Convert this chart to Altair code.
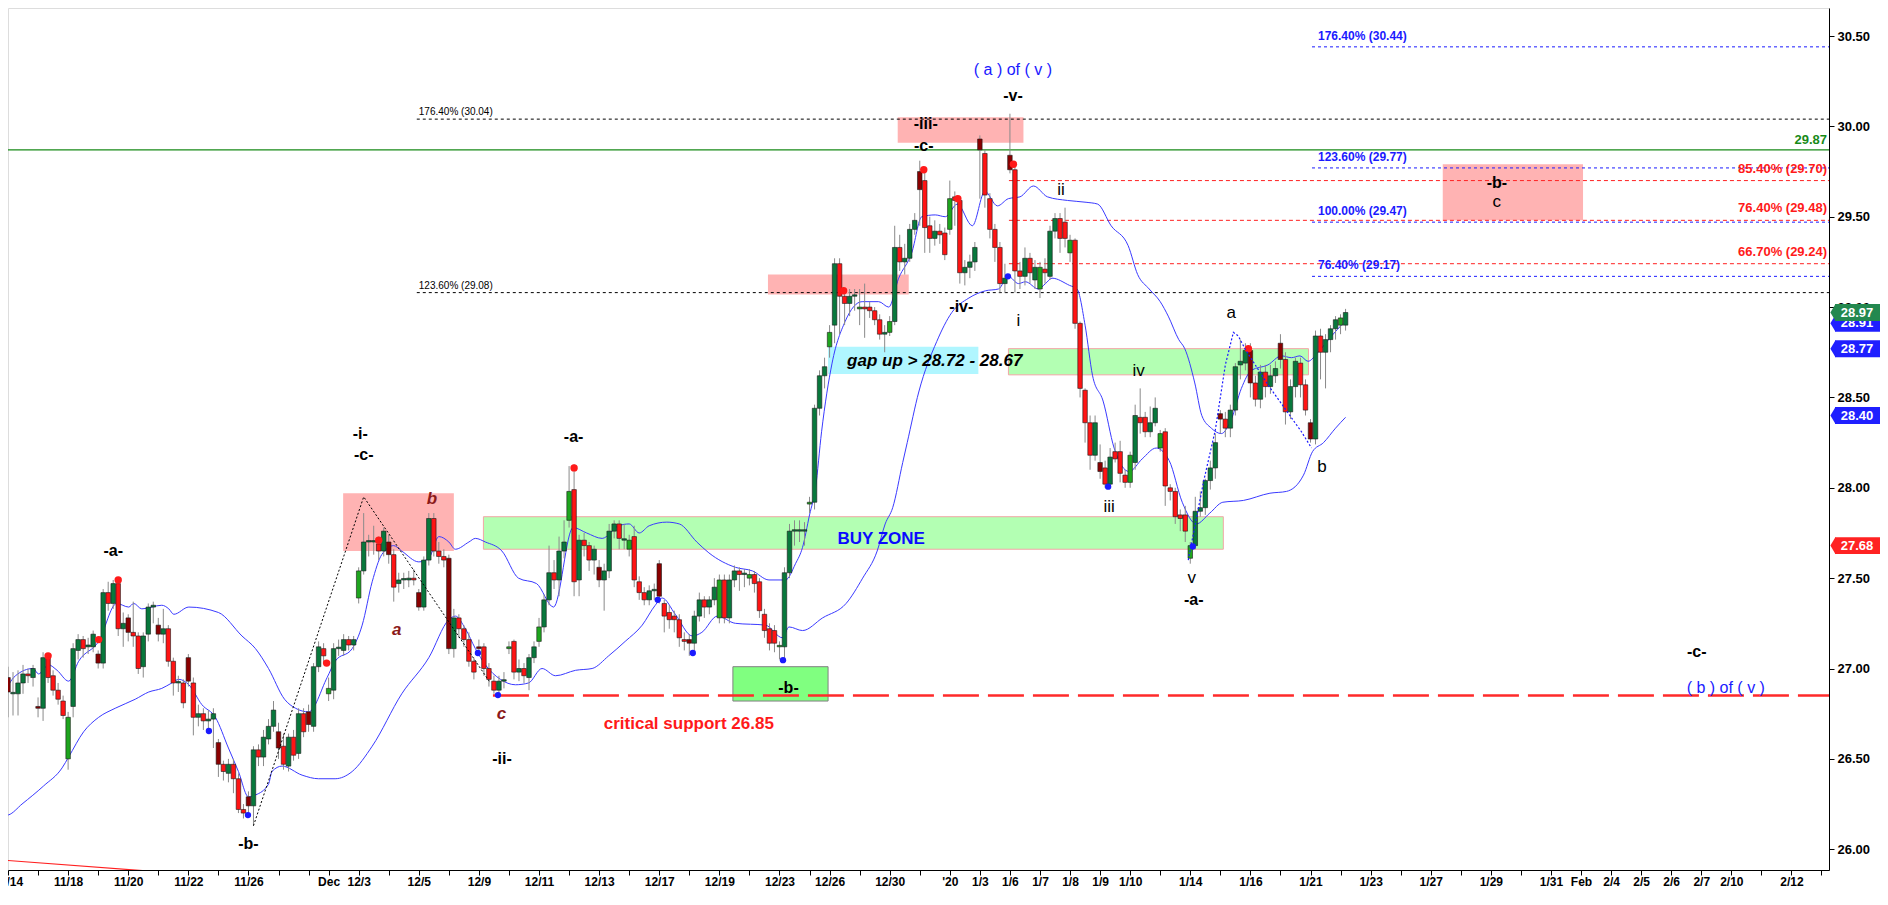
import json
import altair as alt
import pandas as pd

# ---------------- candle data (hourly bars, index = bar number) ----------------
BAR = list(range(1, 270))
OPEN = [26.84, 26.95, 26.86, 26.86, 26.92, 26.97, 26.95, 26.79, 26.78, 27.06,
        26.96, 26.88, 26.82, 26.50, 26.79, 27.10, 27.16, 27.12, 27.12, 27.08,
        27.03, 27.42, 27.36, 27.47, 27.22, 27.28, 27.20, 27.18, 27.01, 27.19,
        27.34, 27.24, 27.19, 27.22, 27.04, 26.92, 26.92, 27.06, 26.92, 26.73,
        26.75, 26.71, 26.72, 26.59, 26.47, 26.42, 26.47, 26.39, 26.22, 26.29,
        26.24, 26.55, 26.51, 26.61, 26.68, 26.65, 26.57, 26.46, 26.62, 26.53,
        26.75, 26.76, 26.68, 27.01, 27.11, 26.86, 26.88, 27.11, 27.10, 27.16,
        27.13, 27.39, 27.54, 27.70, 27.70, 27.69, 27.65, 27.70, 27.63, 27.47,
        27.49, 27.49, 27.50, 27.42, 27.34, 27.60, 27.83, 27.65, 27.62, 27.61,
        27.11, 27.28, 27.22, 27.16, 27.04, 27.12, 27.12, 27.00, 26.93, 26.88,
        26.93, 27.11, 27.15, 26.98, 27.00, 26.95, 27.06, 27.15, 27.23, 27.38,
        27.53, 27.49, 27.65, 27.82, 27.99, 27.49, 27.71, 27.68, 27.60, 27.56,
        27.49, 27.54, 27.76, 27.80, 27.71, 27.66, 27.73, 27.48, 27.42, 27.38,
        27.43, 27.58, 27.36, 27.31, 27.29, 27.27, 27.16, 27.16, 27.14, 27.29,
        27.38, 27.34, 27.38, 27.28, 27.49, 27.28, 27.49, 27.54, 27.52, 27.50,
        27.52, 27.48, 27.30, 27.22, 27.21, 27.12, 27.12, 27.53, 27.76, 27.76,
        27.76, 27.91, 27.92, 28.44, 28.62, 28.78, 28.90, 29.24, 29.06, 29.02,
        29.06, 28.99, 29.00, 29.00, 28.98, 28.93, 28.85, 28.86, 28.92, 29.33,
        29.25, 29.27, 29.43, 29.75, 29.70, 29.45, 29.38, 29.42, 29.41, 29.43,
        29.61, 29.59, 29.19, 29.22, 29.25, 29.93, 29.85, 29.60, 29.43, 29.33,
        29.13, 29.84, 29.76, 29.20, 29.17, 29.27, 29.15, 29.10, 29.21, 29.17,
        29.42, 29.49, 29.47, 29.30, 29.37, 28.91, 28.54, 28.36, 28.18, 28.14,
        28.11, 28.02, 28.20, 28.20, 28.07, 28.03, 28.14, 28.39, 28.39, 28.31,
        28.36, 28.22, 28.31, 28.00, 27.98, 27.85, 27.85, 27.61, 27.68, 27.87,
        27.89, 28.04, 28.11, 28.41, 28.38, 28.33, 28.43, 28.68, 28.69, 28.76,
        28.58, 28.49, 28.64, 28.56, 28.62, 28.80, 28.71, 28.42, 28.56, 28.69,
        28.57, 28.36, 28.27, 28.84, 28.75, 28.82, 28.88, 28.90, 28.90]
CLOSE = [26.75, 26.87, 26.86, 26.92, 26.97, 26.96, 27.00, 26.78, 27.06, 26.95,
         26.88, 26.83, 26.74, 26.73, 27.11, 27.16, 27.11, 27.13, 27.19, 27.03,
         27.42, 27.36, 27.47, 27.22, 27.25, 27.20, 27.18, 27.00, 27.18, 27.34,
         27.35, 27.19, 27.22, 27.04, 26.92, 26.92, 26.81, 26.93, 26.73, 26.75,
         26.71, 26.72, 26.75, 26.47, 26.43, 26.47, 26.39, 26.22, 26.20, 26.24,
         26.55, 26.51, 26.62, 26.68, 26.77, 26.56, 26.47, 26.62, 26.52, 26.75,
         26.65, 26.69, 27.01, 27.12, 27.07, 26.89, 27.11, 27.11, 27.16, 27.13,
         27.16, 27.54, 27.70, 27.70, 27.70, 27.65, 27.76, 27.63, 27.45, 27.49,
         27.49, 27.50, 27.49, 27.34, 27.60, 27.83, 27.65, 27.62, 27.60, 27.11,
         27.28, 27.22, 27.16, 27.04, 26.98, 27.11, 27.00, 26.94, 26.88, 26.93,
         26.93, 27.12, 26.98, 27.00, 26.96, 27.06, 27.12, 27.23, 27.38, 27.53,
         27.49, 27.65, 27.70, 27.98, 27.48, 27.71, 27.68, 27.60, 27.66, 27.49,
         27.54, 27.76, 27.80, 27.72, 27.71, 27.71, 27.49, 27.42, 27.38, 27.43,
         27.43, 27.40, 27.29, 27.27, 27.27, 27.17, 27.15, 27.14, 27.29, 27.38,
         27.34, 27.38, 27.45, 27.49, 27.28, 27.49, 27.54, 27.52, 27.52, 27.52,
         27.47, 27.32, 27.21, 27.14, 27.14, 27.12, 27.53, 27.76, 27.76, 27.76,
         27.76, 27.92, 28.44, 28.62, 28.67, 28.86, 29.24, 29.06, 29.02, 29.06,
         29.06, 29.00, 28.99, 28.98, 28.93, 28.85, 28.86, 28.92, 29.33, 29.25,
         29.27, 29.43, 29.48, 29.65, 29.44, 29.38, 29.42, 29.40, 29.29, 29.60,
         29.59, 29.19, 29.22, 29.25, 29.33, 29.87, 29.62, 29.43, 29.33, 29.13,
         29.16, 29.76, 29.20, 29.17, 29.27, 29.19, 29.22, 29.22, 29.19, 29.42,
         29.49, 29.38, 29.38, 29.37, 28.91, 28.55, 28.36, 28.18, 28.36, 28.09,
         28.02, 28.17, 28.16, 28.08, 28.03, 28.18, 28.40, 28.36, 28.31, 28.36,
         28.44, 28.30, 28.01, 27.98, 27.84, 27.83, 27.76, 27.68, 27.87, 27.89,
         28.04, 28.11, 28.25, 28.38, 28.33, 28.43, 28.67, 28.70, 28.76, 28.58,
         28.49, 28.64, 28.56, 28.62, 28.66, 28.71, 28.42, 28.56, 28.70, 28.57,
         28.43, 28.27, 28.84, 28.75, 28.82, 28.88, 28.93, 28.94, 28.97]
HIGH = [26.87, 27.01, 26.98, 26.99, 27.02, 27.00, 27.02, 26.84, 27.09, 27.07,
        26.99, 26.92, 26.85, 26.76, 27.14, 27.19, 27.18, 27.17, 27.21, 27.10,
        27.44, 27.48, 27.49, 27.49, 27.31, 27.30, 27.37, 27.20, 27.20, 27.36,
        27.37, 27.28, 27.33, 27.24, 27.06, 26.96, 26.94, 27.08, 26.95, 26.80,
        26.78, 26.77, 26.78, 26.61, 26.49, 26.50, 26.50, 26.42, 26.25, 26.32,
        26.57, 26.58, 26.66, 26.72, 26.82, 26.70, 26.64, 26.64, 26.66, 26.78,
        26.78, 26.80, 27.03, 27.15, 27.14, 26.95, 27.14, 27.16, 27.19, 27.18,
        27.18, 27.56, 27.86, 27.74, 27.79, 27.73, 27.78, 27.74, 27.66, 27.53,
        27.53, 27.54, 27.55, 27.44, 27.62, 27.86, 27.86, 27.70, 27.66, 27.63,
        27.33, 27.30, 27.24, 27.20, 27.06, 27.16, 27.14, 27.03, 26.96, 26.96,
        26.98, 27.15, 27.16, 27.05, 27.03, 27.08, 27.15, 27.28, 27.41, 27.68,
        27.60, 27.73, 27.82, 28.12, 28.13, 27.74, 27.75, 27.70, 27.68, 27.60,
        27.58, 27.80, 27.82, 27.82, 27.80, 27.74, 27.79, 27.51, 27.45, 27.46,
        27.47, 27.60, 27.38, 27.35, 27.32, 27.30, 27.20, 27.19, 27.32, 27.42,
        27.40, 27.40, 27.50, 27.52, 27.52, 27.52, 27.57, 27.56, 27.55, 27.55,
        27.54, 27.50, 27.33, 27.25, 27.24, 27.15, 27.56, 27.80, 27.82, 27.82,
        27.81, 27.95, 28.46, 28.65, 28.72, 28.90, 29.27, 29.27, 29.10, 29.10,
        29.10, 29.10, 29.13, 29.03, 29.00, 28.96, 28.90, 28.95, 29.45, 29.40,
        29.35, 29.46, 29.52, 29.81, 29.77, 29.50, 29.48, 29.46, 29.44, 29.70,
        29.64, 29.61, 29.26, 29.29, 29.36, 29.95, 29.87, 29.63, 29.46, 29.36,
        29.24, 30.07, 29.80, 29.25, 29.33, 29.30, 29.26, 29.25, 29.27, 29.45,
        29.52, 29.52, 29.55, 29.40, 29.38, 28.92, 28.55, 28.40, 28.40, 28.24,
        28.15, 28.22, 28.25, 28.26, 28.10, 28.20, 28.46, 28.55, 28.42, 28.45,
        28.50, 28.32, 28.33, 28.02, 28.00, 27.88, 27.90, 27.70, 27.95, 27.98,
        28.05, 28.15, 28.30, 28.43, 28.42, 28.46, 28.69, 28.82, 28.80, 28.80,
        28.62, 28.68, 28.68, 28.68, 28.70, 28.85, 28.75, 28.60, 28.72, 28.72,
        28.60, 28.38, 28.87, 28.88, 28.85, 28.90, 28.95, 28.96, 28.99]
LOW = [26.72, 26.73, 26.74, 26.74, 26.86, 26.92, 26.90, 26.73, 26.71, 26.92,
       26.85, 26.80, 26.72, 26.44, 26.73, 27.05, 27.06, 27.08, 27.09, 27.00,
       27.00, 27.32, 27.33, 27.18, 27.12, 27.15, 27.12, 26.97, 26.95, 27.15,
       27.25, 27.15, 27.14, 27.01, 26.85, 26.87, 26.78, 26.90, 26.63, 26.68,
       26.66, 26.65, 26.56, 26.40, 26.38, 26.37, 26.31, 26.20, 26.17, 26.19,
       26.13, 26.46, 26.46, 26.58, 26.65, 26.50, 26.44, 26.43, 26.49, 26.50,
       26.62, 26.65, 26.65, 26.98, 27.03, 26.82, 26.83, 27.07, 27.07, 27.10,
       27.10, 27.36, 27.52, 27.62, 27.63, 27.60, 27.62, 27.58, 27.37, 27.42,
       27.44, 27.45, 27.46, 27.32, 27.32, 27.57, 27.62, 27.58, 27.56, 27.08,
       27.06, 27.17, 27.12, 27.01, 26.94, 27.07, 26.96, 26.90, 26.86, 26.85,
       26.89, 27.08, 26.94, 26.93, 26.92, 26.88, 27.03, 27.12, 27.20, 27.35,
       27.44, 27.40, 27.61, 27.78, 27.40, 27.40, 27.62, 27.54, 27.52, 27.45,
       27.32, 27.50, 27.72, 27.66, 27.66, 27.62, 27.45, 27.38, 27.35, 27.35,
       27.38, 27.36, 27.20, 27.22, 27.20, 27.12, 27.10, 27.07, 27.10, 27.26,
       27.28, 27.30, 27.35, 27.25, 27.25, 27.25, 27.45, 27.43, 27.45, 27.46,
       27.42, 27.28, 27.17, 27.10, 27.09, 27.05, 27.04, 27.50, 27.68, 27.70,
       27.68, 27.86, 27.88, 28.40, 28.55, 28.72, 28.80, 28.85, 28.90, 28.95,
       28.98, 28.90, 28.83, 28.94, 28.90, 28.82, 28.75, 28.84, 28.90, 29.20,
       29.18, 29.25, 29.40, 29.45, 29.30, 29.30, 29.34, 29.35, 29.26, 29.40,
       29.45, 29.13, 29.12, 29.16, 29.20, 29.60, 29.55, 29.38, 29.25, 29.08,
       29.08, 29.74, 29.08, 29.10, 29.12, 29.13, 29.10, 29.05, 29.13, 29.15,
       29.38, 29.30, 29.33, 29.25, 28.88, 28.50, 28.25, 28.10, 28.15, 28.05,
       28.00, 28.00, 28.14, 28.03, 28.00, 28.00, 28.10, 28.30, 28.28, 28.28,
       28.34, 28.20, 27.90, 27.93, 27.80, 27.76, 27.70, 27.58, 27.66, 27.84,
       27.85, 27.99, 28.05, 28.30, 28.28, 28.28, 28.40, 28.60, 28.65, 28.50,
       28.45, 28.44, 28.50, 28.52, 28.58, 28.66, 28.35, 28.38, 28.50, 28.50,
       28.40, 28.25, 28.24, 28.60, 28.55, 28.75, 28.82, 28.85, 28.87]

# first bar of each trading session
DAY_START = [2, 8, 14, 20, 26, 32, 38, 44, 50, 56, 62, 66, 72, 78, 84, 90, 96, 102,
             108, 114, 120, 126, 132, 138, 144, 150, 156, 162, 166, 172, 178, 184,
             190, 196, 202, 208, 214, 220, 226, 232, 238, 244, 250, 256, 262, 268]
FUTURE_DAYS = [274, 280, 286, 292, 298, 304, 310, 316, 322, 328, 334, 340, 346, 352, 358, 364]
TICK_BARS = DAY_START + FUTURE_DAYS
TICK_TEXT = ["11/14", "", "11/18", "", "11/20", "", "11/22", "", "11/26", "", "", "Dec",
             "12/3", "", "12/5", "", "12/9", "", "12/11", "", "12/13", "", "12/17", "",
             "12/19", "", "12/23", "", "12/26", "", "12/30", "", "'20", "1/3", "1/6",
             "1/7", "1/8", "1/9", "1/10", "", "1/14", "", "1/16", "", "1/21", "",
             "1/23", "", "1/27", "", "1/29", "", "1/31", "Feb", "2/4", "2/5", "2/6",
             "2/7", "2/10", "", "2/12", ""]

# bands (upper / lower envelope)
UPPER_K = [0.8, 3.5, 7.0, 8.1, 10.1, 11.8, 14.1, 16.1, 20.1, 23.7, 26.1, 27.1, 28.7, 32.7,
           34.1, 35.1, 38.1, 44.0, 48.7, 51.4, 54.0, 57.2, 59.4, 62.0, 65.7, 67.3, 70.7,
           72.7, 74.7, 76.6, 79.0, 80.6, 84.0, 86.0, 88.0, 90.0, 91.3, 94.0, 95.3, 97.3,
           100.6, 103.9, 107.5, 110.9, 114.8, 117.5, 120.6, 123.9, 126.0, 128.0, 130.0,
           133.5, 136.0, 139.5, 141.9, 147.2, 150.6, 153.9, 157.2, 159.2, 160.6, 162.0,
           163.2, 164.4, 166.5, 169.1, 172.5, 175.8, 177.8, 179.8, 182.4, 184.4, 187.1,
           189.1, 191.5, 194.5, 197.0, 199.5, 201.7, 204.0, 206.7, 209.5, 213.5, 217.2,
           219.5, 222.2, 225.6, 227.5, 229.8, 232.0, 233.6, 235.7, 236.9, 238.9, 240.3,
           242.2, 244.2, 246.2, 248.2, 250.2, 253.5, 256.2, 258.2, 259.9, 261.5, 263.5,
           266.2, 268.5]
UPPER_P = [26.84, 26.96, 27.00, 26.97, 27.02, 26.99, 26.93, 27.04, 27.15, 27.36, 27.34,
           27.36, 27.33, 27.35, 27.33, 27.30, 27.34, 27.31, 27.18, 27.11, 27.00, 26.83,
           26.78, 26.76, 26.95, 27.04, 27.11, 27.24, 27.48, 27.63, 27.68, 27.65, 27.59,
           27.61, 27.73, 27.70, 27.66, 27.70, 27.72, 27.70, 27.65, 27.50, 27.47, 27.34,
           27.78, 27.75, 27.72, 27.79, 27.80, 27.75, 27.79, 27.81, 27.80, 27.70, 27.64,
           27.56, 27.54, 27.49, 27.49, 27.58, 27.67, 27.85, 28.00, 28.31, 28.69, 28.92,
           29.03, 29.03, 29.00, 29.16, 29.30, 29.50, 29.51, 29.50, 29.57, 29.45, 29.64,
           29.56, 29.60, 29.61, 29.67, 29.61, 29.59, 29.58, 29.57, 29.45, 29.34, 29.18,
           29.10, 29.03, 28.95, 28.82, 28.77, 28.58, 28.40, 28.33, 28.30, 28.38, 28.55,
           28.65, 28.68, 28.73, 28.72, 28.73, 28.70, 28.75, 28.84, 28.91]
LOWER_K = [0.8, 2.1, 4.8, 9.1, 12.8, 14.1, 17.1, 20.1, 23.4, 27.4, 30.1, 32.7, 34.7, 36.1,
           38.1, 40.7, 43.4, 46.0, 48.0, 50.0, 51.4, 54.0, 54.7, 56.7, 60.7, 64.0, 67.3,
           70.7, 74.7, 80.6, 86.0, 90.0, 91.3, 93.3, 95.3, 97.3, 100.3, 103.3, 105.9,
           108.6, 111.3, 115.3, 118.6, 121.9, 125.2, 128.6, 131.2, 132.6, 135.2, 138.6,
           140.5, 143.6, 147.2, 153.2, 156.6, 157.9, 160.6, 164.6, 169.3, 172.6, 175.5,
           177.1, 178.6, 180.6, 181.5, 183.8, 187.4, 190.4, 193.8, 197.1, 199.7, 201.7,
           203.7, 205.1, 207.7, 209.1, 210.4, 213.9, 215.4, 217.0, 218.5, 220.6, 222.8,
           225.8, 228.4, 231.2, 233.8, 236.4, 239.2, 241.9, 244.5, 248.6, 253.9, 257.2,
           260.6, 262.4, 264.6, 267.0, 269.0]
LOWER_P = [26.185, 26.19, 26.25, 26.35, 26.45, 26.51, 26.65, 26.73, 26.78, 26.83, 26.87,
           26.89, 26.92, 26.94, 26.91, 26.80, 26.73, 26.56, 26.43, 26.29, 26.30, 26.36,
           26.43, 26.46, 26.41, 26.39, 26.39, 26.43, 26.57, 26.86, 27.06, 27.27, 27.29,
           27.22, 27.11, 27.02, 26.94, 26.91, 26.92, 27.00, 26.96, 26.99, 27.00, 27.07,
           27.15, 27.24, 27.35, 27.39, 27.30, 27.18, 27.20, 27.29, 27.25, 27.24, 27.17,
           27.23, 27.21, 27.28, 27.36, 27.50, 27.65, 27.80, 27.89, 28.14, 28.25, 28.53,
           28.81, 28.97, 29.05, 29.09, 29.10, 29.17, 29.13, 29.14, 29.10, 29.13, 29.16,
           29.12, 29.10, 28.90, 28.62, 28.48, 28.22, 28.09, 28.16, 28.22, 28.15, 27.92,
           27.80, 27.86, 27.92, 27.93, 27.97, 27.98, 28.07, 28.20, 28.25, 28.33, 28.39]

# swing markers
RED_DOT_K = [10, 20.1, 24, 65.6, 76, 115, 168.8, 184.8, 191.6, 202.7, 249.6]
RED_DOT_P = [27.07, 27.16, 27.49, 27.03, 27.71, 28.11, 29.09, 29.76, 29.60, 29.79, 28.77]
BLUE_DOT_K = [42.1, 49.9, 95.8, 99.8, 131.7, 138.7, 156.7, 201.6, 221.6, 238.5]
BLUE_DOT_P = [26.654, 26.189, 27.086, 26.853, 27.38, 27.086, 27.046, 29.17, 28.006, 27.675]

# fibonacci / level lines
BLACK_FIB = [30.04, 29.08]
BLACK_FIB_TXT = ["176.40% (30.04)", "123.60% (29.08)"]
BLUE_FIB = [30.44, 29.77, 29.47, 29.17]
BLUE_FIB_TXT = ["176.40% (30.44)", "123.60% (29.77)", "100.00% (29.47)", "76.40% (29.17)"]
RED_FIB = [29.70, 29.48, 29.24]
RED_FIB_TXT = ["85.40% (29.70)", "76.40% (29.48)", "66.70% (29.24)"]
KEY_LEVEL = 29.87
SUPPORT = 26.85

TAG_VALUES = [28.91, 28.97, 28.77, 28.40, 27.68]
TAG_KIND = ["blue", "green", "blue", "blue", "red"]
TAG_COLORS = {"blue": "#1f1fff", "green": "#23884f", "red": "#ff2222"}

# ---------------- layout ----------------
W, H = 1821, 862
XD = [2.0, 365.5]
YD = [25.885, 30.655]
FONT = "Liberation Sans"

xs = alt.Scale(domain=XD, nice=False, zero=False)
ys = alt.Scale(domain=YD, nice=False, zero=False)
label_expr = f"{json.dumps(TICK_TEXT)}[indexof({json.dumps(TICK_BARS)}, datum.value)]"
x_axis = alt.Axis(values=TICK_BARS, labelExpr=label_expr, labelOverlap=False, labelFlush=False,
                  tickSize=5, labelFontSize=12, labelFontWeight="bold", labelColor="black",
                  labelFont=FONT, domainColor="black", tickColor="black", grid=False,
                  title=None, labelPadding=1, domainWidth=1)
y_axis = alt.Axis(orient="right", values=[26.0, 26.5, 27.0, 27.5, 28.0, 28.5, 29.0, 29.5, 30.0, 30.5],
                  format=".2f", tickSize=5, labelFontSize=13, labelFontWeight="bold",
                  labelColor="black", labelFont=FONT, domainColor="black", tickColor="black",
                  grid=False, title=None, labelPadding=3, domainWidth=1)


def X(f):
    return alt.X(f, type="quantitative", scale=xs, axis=x_axis)


def Y(f):
    return alt.Y(f, type="quantitative", scale=ys, axis=y_axis)


# ---------------- tables ----------------
rows = []
for i, k in enumerate(BAR):
    o, c, h, l = OPEN[i], CLOSE[i], HIGH[i], LOW[i]
    up = c >= o
    first = k in DAY_START
    kind = ("gap up" if up else "gap down") if first else ("up" if up else "down")
    top, bot = max(o, c), min(o, c)
    if top - bot < 0.008:
        top = bot + 0.008
    rows.append(dict(k=k, k1=k - 0.45, k2=k + 0.45, top=top, bot=bot,
                     hi=max(h, top), lo=min(l, bot), kind=kind))
candles = pd.DataFrame(rows)

upper = pd.DataFrame({"k": UPPER_K, "p": UPPER_P})
lower = pd.DataFrame({"k": LOWER_K, "p": LOWER_P})
reddots = pd.DataFrame({"k": RED_DOT_K, "p": RED_DOT_P})
bluedots = pd.DataFrame({"k": BLUE_DOT_K, "p": BLUE_DOT_P})

layers = []


def rect(k1, k2, p1, p2, fill, stroke=None, sw=1):
    df = pd.DataFrame([{"k1": k1, "k2": k2, "p1": p1, "p2": p2}])
    kw = dict(fill=fill, clip=True)
    if stroke:
        kw.update(stroke=stroke, strokeWidth=sw)
    else:
        kw.update(strokeWidth=0)
    return alt.Chart(df).mark_rect(**kw).encode(x=X("k1"), x2=alt.X2("k2"), y=Y("p1"), y2=alt.Y2("p2"))


PINK = "#ffb3b3"
LGREEN = "#b3ffb3"
layers += [
    rect(68.9, 91.0, 27.65, 27.97, PINK),
    rect(96.9, 244.6, 27.66, 27.84, LGREEN, "#f2a6a6"),
    rect(146.7, 165.7, 26.82, 27.01, "#80ff80", "#808080"),
    rect(153.7, 181.8, 29.07, 29.18, PINK),
    rect(179.6, 204.7, 29.91, 30.05, PINK),
    rect(165.7, 195.7, 28.63, 28.78, "#b0f6ff"),
    rect(201.7, 261.6, 28.625, 28.77, LGREEN, "#f2a6a6"),
    rect(288.4, 316.4, 29.48, 29.79, PINK),
]


def hlines(values, k1, k2, color, dash, width=1):
    df = pd.DataFrame({"p": values, "k1": k1, "k2": k2})
    kw = dict(color=color, strokeWidth=width, clip=True)
    if dash:
        kw["strokeDash"] = dash
    return alt.Chart(df).mark_rule(**kw).encode(x=X("k1"), x2=alt.X2("k2"), y=Y("p"))


layers += [
    hlines([KEY_LEVEL], 0.0, 368.0, "#178a17", None, 1.2),
    hlines(BLACK_FIB, 83.6, 368.0, "#000000", [3, 3]),
    hlines(BLUE_FIB, 262.3, 368.0, "#1a1aff", [3, 3]),
    hlines(RED_FIB, 201.8, 368.0, "#ff2020", [4, 3]),
    hlines([SUPPORT], 98.8, 368.0, "#ff2a2a", [36, 9], 2.5),
]

# red trend line at the bottom left
trend = pd.DataFrame({"k": [0.8, 58.5], "p": [25.94, 25.82]})
layers.append(alt.Chart(trend).mark_line(color="#ff2020", strokeWidth=1.2, clip=True)
              .encode(x=X("k"), y=Y("p")))

# bands
for df in (upper, lower):
    layers.append(alt.Chart(df).mark_line(color="#3a3aff", strokeWidth=1, interpolate="monotone", clip=True)
                  .encode(x=X("k"), y=Y("p")))

# candles
layers.append(alt.Chart(candles).mark_rule(color="#8a8a8a", strokeWidth=1, clip=True)
              .encode(x=X("k"), y=Y("lo"), y2=alt.Y2("hi")))
layers.append(alt.Chart(candles).mark_rect(stroke="#1a1a1a", strokeWidth=0.6, clip=True)
              .encode(x=X("k1"), x2=alt.X2("k2"), y=Y("bot"), y2=alt.Y2("top"),
                      fill=alt.Fill("kind:N", legend=None,
                                    scale=alt.Scale(domain=["up", "down", "gap up", "gap down"],
                                                    range=["#08783c", "#ff1414", "#1ea51e", "#8b0000"]))))

# swing dots
layers.append(alt.Chart(reddots).mark_circle(color="#ff1a1a", size=55, opacity=1, clip=True)
              .encode(x=X("k"), y=Y("p")))
layers.append(alt.Chart(bluedots).mark_circle(color="#1a1aff", size=40, opacity=1, clip=True)
              .encode(x=X("k"), y=Y("p")))

# dotted wave sketches
zz1 = pd.DataFrame({"k": [51, 73, 98.3], "p": [26.13, 27.95, 26.92]})
zz2 = pd.DataFrame({"k": [237.6, 240.7, 243.0, 245.0, 246.6, 247.6, 248.9, 253.5, 260.2, 262.2],
                    "p": [27.60, 28.04, 28.32, 28.68, 28.86, 28.84, 28.77, 28.57, 28.31, 28.22]})
layers.append(alt.Chart(zz1).mark_line(color="#000000", strokeDash=[2, 2], strokeWidth=1, clip=True)
              .encode(x=X("k"), y=Y("p")))
layers.append(alt.Chart(zz2).mark_line(color="#1a1aff", strokeDash=[2, 2], strokeWidth=1.2, clip=True)
              .encode(x=X("k"), y=Y("p")))


def texts(items, **kw):
    df = pd.DataFrame(items, columns=["k", "p", "t"])
    base = dict(font=FONT)
    base.update(kw)
    return alt.Chart(df).mark_text(**base).encode(x=X("k"), y=Y("p"), text="t:N")


# wave labels
layers.append(texts([
    (23.0, 27.65, "-a-"), (50.0, 26.03, "-b-"), (72.3, 28.30, "-i-"), (73.0, 28.18, "-c-"),
    (100.6, 26.50, "-ii-"), (114.9, 28.28, "-a-"), (157.8, 26.89, "-b-"),
    (184.8, 29.894, "-c-"), (185.2, 30.015, "-iii-"), (202.6, 30.17, "-v-"),
    (192.3, 28.998, "-iv-"), (238.7, 27.38, "-a-"), (339.1, 27.09, "-c-"),
    (299.2, 29.689, "-b-"),
], fontSize=16, fontWeight="bold", color="#000000"))
layers.append(texts([
    (212.2, 29.647, "ii"), (203.7, 28.925, "i"), (227.7, 28.649, "iv"), (221.8, 27.895, "iii"),
    (238.3, 27.50, "v"), (246.2, 28.97, "a"), (264.3, 28.116, "b"), (299.2, 29.579, "c"),
], fontSize=17, color="#000000"))
layers.append(texts([
    (86.6, 27.94, "b"), (79.6, 27.215, "a"), (100.5, 26.75, "c"),
], fontSize=17, fontWeight="bold", fontStyle="italic", color="#8b1a1a"))
layers.append(texts([
    (202.6, 30.31, "( a ) of ( v )"), (344.9, 26.89, "( b ) of ( v )"),
], fontSize=16, color="#1a1aff"))
layers.append(texts([(176.3, 27.715, "BUY ZONE")], fontSize=17, fontWeight="bold", color="#0a0aff"))
layers.append(texts([(137.9, 26.695, "critical support 26.85")], fontSize=17, fontWeight="bold",
                    color="#ff1a1a"))
layers.append(texts([(169.5, 28.70, "gap up > 28.72 - 28.67")], fontSize=17, fontWeight="bold",
                    fontStyle="italic", color="#000000", align="left"))

# fib labels
layers.append(texts([(84.0, v, t) for v, t in zip(BLACK_FIB, BLACK_FIB_TXT)],
                    fontSize=10, color="#000000", align="left", baseline="bottom", dy=-2))
layers.append(texts([(263.5, v, t) for v, t in zip(BLUE_FIB, BLUE_FIB_TXT)],
                    fontSize=12, fontWeight="bold", color="#1a1aff", align="left", baseline="bottom", dy=-4))

redlab = pd.DataFrame({"p": RED_FIB, "t": RED_FIB_TXT})
layers.append(alt.Chart(redlab).mark_text(font=FONT, fontSize=13, fontWeight="bold", color="#ff1a1a",
                                          align="right", baseline="bottom", dy=-5)
              .encode(x=alt.value(W - 2), y=Y("p"), text="t:N"))
keylab = pd.DataFrame({"p": [KEY_LEVEL], "t": ["29.87"]})
layers.append(alt.Chart(keylab).mark_text(font=FONT, fontSize=13, fontWeight="bold", color="#178a17",
                                          align="right", baseline="bottom", dy=-3)
              .encode(x=alt.value(W - 2), y=Y("p"), text="t:N"))

# price tags on the right axis
for v, kind in zip(TAG_VALUES, TAG_KIND):
    col = TAG_COLORS[kind]
    one = pd.DataFrame({"p": [v], "p1": [v + 0.047], "p2": [v - 0.047], "t": [f"{v:.2f}"]})
    layers.append(alt.Chart(one).mark_rect(clip=False, fill=col)
                  .encode(x=alt.value(W + 6), x2=alt.value(W + 51), y=Y("p1"), y2=alt.Y2("p2")))
    layers.append(alt.Chart(one).mark_point(shape="M0,-1L-0.6,0L0,1Z", size=290, filled=True,
                                            fill=col, strokeWidth=0, opacity=1, clip=False)
                  .encode(x=alt.value(W + 6.5), y=Y("p")))
    layers.append(alt.Chart(one).mark_text(font=FONT, fontSize=13, fontWeight="bold", color="white",
                                           align="center", baseline="middle", clip=False)
                  .encode(x=alt.value(W + 28), y=Y("p"), text="t:N"))

chart = alt.layer(*layers).properties(
    width=W, height=H,
    autosize=alt.AutoSizeParams(type="none"),
    padding={"left": 0, "top": 0, "right": 51, "bottom": 22},
).configure_view(stroke=None).configure(font=FONT)

chart.save("out.html", embed_options={"renderer": "svg", "actions": False})
